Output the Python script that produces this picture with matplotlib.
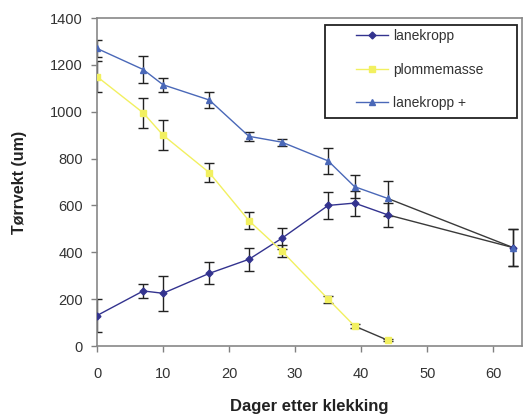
import matplotlib
matplotlib.use("Agg")
import matplotlib.pyplot as plt
from matplotlib.patches import Rectangle
import numpy as np

plt.rcParams['font.family'] = ['Liberation Sans', 'DejaVu Sans']

days = [0, 7, 10, 17, 23, 28, 35, 39, 44, 63]
lanekropp = [130, 235, 225, 310, 370, 460, 600, 610, 560, 420]
lanekropp_err = [70, 30, 75, 47, 48, 45, 57, 53, 50, 80]

days_yolk = [0, 7, 10, 17, 23, 28, 35, 39, 44]
plommemasse = [1150, 995, 900, 740, 535, 405, 200, 85, 25]
plommemasse_err = [65, 65, 63, 40, 35, 25, 15, 10, 5]

lanekropp_plus = [1270, 1180, 1115, 1050, 895, 870, 790, 680, 630, 420]
lanekropp_plus_err = [35, 57, 30, 35, 20, 15, 55, 50, 75, 80]

labels = ['lanekropp', 'plommemasse', 'lanekropp +']
xticks = [0, 10, 20, 30, 40, 50, 60]
yticks = [0, 200, 400, 600, 800, 1000, 1200, 1400]

c_lk = '#33338f'
c_pm = '#f2f060'
c_lp = '#4a68b8'
c_conn = '#3a3a3a'

fig = plt.figure(figsize=(5.25, 4.15), dpi=100)
ax = fig.add_axes([97/525, 69/415, 424.7/525, 328/415])

def draw(x, y, e, color, marker, label, split, ms):
    x = np.asarray(x); y = np.asarray(y); e = np.asarray(e)
    ax.errorbar(x, y, yerr=e, fmt='none', ecolor='#222222', elinewidth=1,
                capsize=3.5, capthick=1, zorder=2)
    ax.plot(x[split-1:], y[split-1:], color=c_conn, lw=1, zorder=3)
    ax.plot(x[:split], y[:split], color=color, lw=1, marker=marker, ms=ms,
            mfc=color, mec=color, label=label, zorder=4)
    ax.plot(x[split:], y[split:], ls='none', marker=marker, ms=ms,
            mfc=color, mec=color, zorder=4)

draw(days, lanekropp, lanekropp_err, c_lk, 'D', labels[0], 9, 3.5)
draw(days_yolk, plommemasse, plommemasse_err, c_pm, 's', labels[1], 8, 4)
draw(days, lanekropp_plus, lanekropp_plus_err, c_lp, '^', labels[2], 9, 4.5)

ax.set_xlim(0, 64.3)
ax.set_ylim(0, 1400)
ax.set_xticks(xticks)
ax.set_yticks(yticks)
ax.tick_params(direction='out', length=4, width=1, color='#808080',
               labelsize=10.5, labelcolor='#333333')
ax.tick_params(axis='x', pad=11)
ax.tick_params(axis='y', pad=6)
for s in ax.spines.values():
    s.set_color('#888888')
    s.set_linewidth(1.2)

ax.set_xlabel('Dager etter klekking', fontsize=12, fontweight='bold',
              color='#222222', labelpad=13)
ax.set_ylabel('Tørrvekt (um)', fontsize=11.5, fontweight='bold',
              color='#222222', labelpad=17)

# legend box (axes fraction) drawn as a patch, entries without frame
x0 = (325 - 97) / 424.7
x1 = (517 - 97) / 424.7
y1 = (346 - 25) / 328
y0 = (346 - 118) / 328
ax.add_patch(Rectangle((x0, y0), x1 - x0, y1 - y0, transform=ax.transAxes,
                       facecolor='white', edgecolor='#222222', lw=1.3, zorder=5))
leg = ax.legend(loc='upper left',
                bbox_to_anchor=((352 - 97) / 424.7, (346 - 25) / 328),
                fontsize=10, frameon=False,
                labelspacing=1.4, handlelength=2.3, handletextpad=0.35,
                borderpad=0.3, borderaxespad=0)
leg.set_zorder(6)
for t in leg.get_texts():
    t.set_color('#333333')

fig.savefig('out.png', dpi=100)
